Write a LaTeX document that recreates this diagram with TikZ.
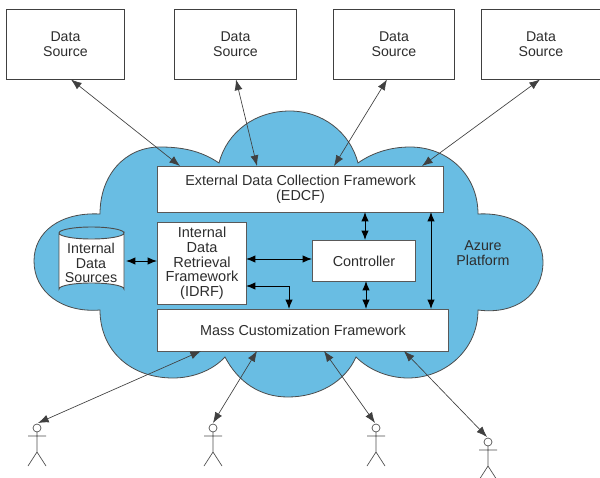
\documentclass[tikz,border=0pt]{standalone}
\usepackage{fontspec}
\setmainfont{Liberation Sans}
\usetikzlibrary{arrows.meta}
\definecolor{cloudblue}{RGB}{105,189,227}
\definecolor{txt}{RGB}{45,45,45}
\tikzset{
  x=0.75pt,y=-0.75pt,
  fw/.style={draw=black!65,line width=0.8pt,fill=white,inner sep=0pt,align=center,font=\fontsize{10.8pt}{11.2pt}\selectfont,text=txt,anchor=north west},
  src/.style={fw,draw=black!75,line width=0.7pt,font=\fontsize{10.6pt}{11.2pt}\selectfont},
  thin arrow/.style={draw=black!75,line width=0.5pt,{Latex[length=8pt,width=6pt]}-{Latex[length=8pt,width=6pt]}},
  thick arrow/.style={draw=black,line width=0.7pt,{Latex[length=7pt,width=5.5pt]}-{Latex[length=7pt,width=5.5pt]}},
  actor/.style={draw=black!70,line width=0.5pt},
}
\newcommand{\stick}[2]{%
  \draw[actor,fill=white] (#1,#2) circle[radius=4];
  \draw[actor] (#1,#2+4) -- (#1,#2+24) (#1-9,#2+8) -- (#1+9,#2+8)
     (#1-9,#2+38) -- (#1,#2+24) -- (#1+9,#2+38);
}
\begin{document}
\begin{tikzpicture}
\useasboundingbox (0,0) rectangle (600,478);
% cloud
\draw[draw=black!70,line width=0.6pt,fill=cloudblue]
  (219,163) .. controls (200,150) and (180,147) .. (160,147)
  .. controls (125,147) and (100,175) .. (100,214)
  .. controls (60,212) and (34,232) .. (34,261)
  .. controls (34,292) and (62,313) .. (100,310)
  .. controls (100,350) and (130,378) .. (173,378)
  .. controls (192,378) and (212,371) .. (225,357)
  .. controls (238,382) and (260,397) .. (288,397)
  .. controls (318,397) and (345,382) .. (356,357)
  .. controls (370,371) and (390,378) .. (408,378)
  .. controls (445,378) and (478,350) .. (478,310)
  .. controls (515,315) and (543,295) .. (543,262)
  .. controls (543,232) and (515,212) .. (478,214)
  .. controls (478,175) and (448,147) .. (410,147)
  .. controls (390,147) and (372,153) .. (358,163)
  .. controls (350,132) and (322,111) .. (290,111)
  .. controls (255,111) and (227,132) .. (219,163) -- cycle;
% nodes
\node[src,minimum width=118pt*0.75,minimum height=70pt*0.75] (s1) at (6,9) {Data\\Source};
\node[src,minimum width=122pt*0.75,minimum height=70pt*0.75] (s2) at (174,9) {Data\\Source};
\node[src,minimum width=121pt*0.75,minimum height=70pt*0.75] (s3) at (333,9) {Data\\Source};
\node[src,minimum width=119pt*0.75,minimum height=70pt*0.75] (s4) at (481,9) {Data\\Source};
\node[fw,minimum width=286pt*0.75,minimum height=46pt*0.75] (edcf) at (157,166) {External Data Collection Framework\\(EDCF)};
\node[fw,minimum width=89pt*0.75,minimum height=82pt*0.75,font=\fontsize{10.9pt}{11pt}\selectfont] (idrf) at (157,222) {Internal\\Data\\Retrieval\\Framework\\(IDRF)};
\node[fw,minimum width=103pt*0.75,minimum height=41pt*0.75] (ctrl) at (312,240) {Controller};
\node[fw,minimum width=291pt*0.75,minimum height=42pt*0.75] (mass) at (157,309) {Mass Customization Framework};
% cylinder
\draw[draw=black!70,line width=0.7pt,fill=white] (59,233) -- (59,289) arc[start angle=180,end angle=360,x radius=32.5,y radius=6] -- (124,233) arc[start angle=0,end angle=180,x radius=32.5,y radius=6];
\draw[draw=black!70,line width=0.7pt] (59,233) arc[start angle=180,end angle=360,x radius=32.5,y radius=6];
\node[inner sep=0pt,align=center,text=txt,font=\fontsize{10.7pt}{11pt}\selectfont] (ids) at (91,263) {Internal\\Data\\Sources};
\coordinate (idsr) at (126,261);
\node[inner sep=0pt,align=center,text=txt,font=\fontsize{10.7pt}{11pt}\selectfont] (az) at (483,253) {Azure\\Platform};
% actors
\stick{37}{428}
\stick{213}{428}
\stick{376}{428}
\stick{488}{442}
\coordinate (a1) at (38,423);
\coordinate (a2) at (213,423);
\coordinate (a3) at (375,423);
\coordinate (a4) at (487,437);
\coordinate (b1) at (71,79.5);
\coordinate (b2) at (236,79.5);
\coordinate (b3) at (387,79.5);
\coordinate (b4) at (540,79.5);
\coordinate (c1) at (180,166);
\coordinate (c2) at (257,166);
\coordinate (c3) at (334,166);
\coordinate (c4) at (422,166);
\coordinate (d1) at (201,351);
\coordinate (d2) at (257,351);
\coordinate (d3) at (324,351);
\coordinate (d4) at (404,351);
% thin arrows
\draw[thin arrow] (b1) -- (c1);
\draw[thin arrow] (b2) -- (c2);
\draw[thin arrow] (b3) -- (c3);
\draw[thin arrow] (b4) -- (c4);
\draw[thin arrow] (a1) -- (d1);
\draw[thin arrow] (a2) -- (d2);
\draw[thin arrow] (a3) -- (d3);
\draw[thin arrow] (a4) -- (d4);
% thick arrows
\draw[thick arrow] (idsr) -- (idrf.west |- idsr);
\draw[thick arrow] (246,259) -- (312,259);
\draw[thick arrow] (246,286) -- (289,286) -- (289,309);
\draw[thick arrow] (365,212) -- (365,240);
\draw[thick arrow] (366,281) -- (366,309);
\draw[thick arrow] (431,212) -- (431,309);
\end{tikzpicture}
\end{document}
